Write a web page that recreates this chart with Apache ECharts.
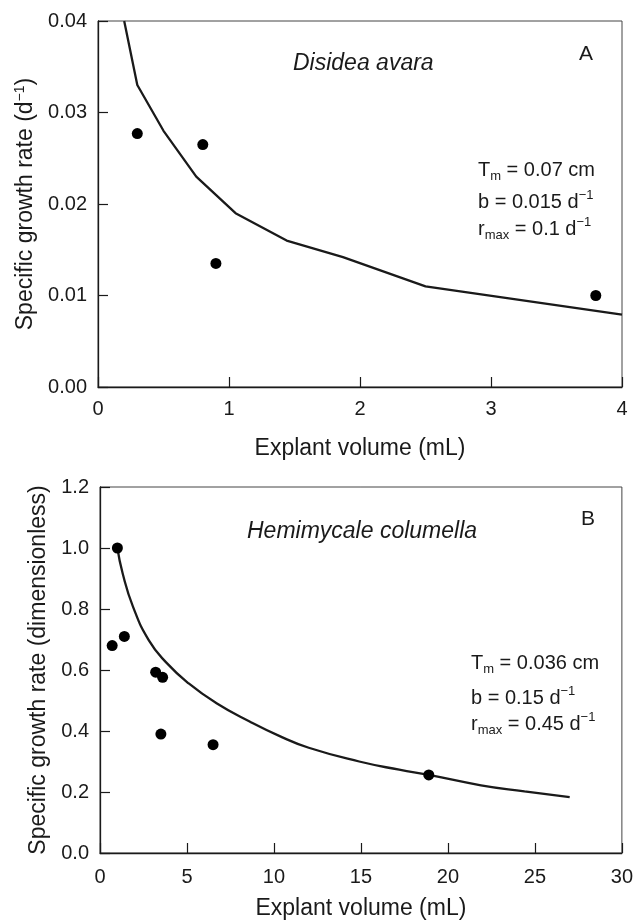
<!DOCTYPE html>
<html>
<head>
<meta charset="utf-8">
<script src="https://cdn.jsdelivr.net/npm/echarts@6/dist/echarts.min.js"></script>
<style>
  html, body { margin: 0; padding: 0; background: #fff; }
  #chart { width: 636px; height: 924px; }
</style>
</head>
<body>
<div id="chart"></div>
<script>
var FONT = "'Liberation Sans', Arial, Helvetica, sans-serif"
var INK = '#1a1a1a'

// panel A - Disidea avara
var avaraVolume = [0.3, 0.8, 0.9, 3.8]
var avaraRate = [0.0277, 0.0265, 0.0135, 0.0100]
var avaraFitVolume = [0.2, 0.3, 0.5, 0.75, 1.05, 1.44, 1.87, 2.5, 4.0]
var avaraFitRate = [0.040, 0.033, 0.028, 0.023, 0.019, 0.016, 0.0142, 0.011, 0.0079]
var avaraXTicks = [0, 1, 2, 3, 4]
var avaraYTicks = [0.00, 0.01, 0.02, 0.03, 0.04]

// panel B - Hemimycale columella
var columVolume = [1.0, 0.7, 1.4, 3.2, 3.6, 3.5, 6.5, 18.9]
var columRate = [1.0, 0.68, 0.71, 0.593, 0.576, 0.39, 0.355, 0.256]
var columFitVolume = [1.0, 1.3, 1.9, 2.8, 3.8, 5.1, 6.7, 8.6, 10.3, 12, 14.9, 17.2, 18.9, 21.9, 24.4, 27]
var columFitRate = [1.0, 0.917, 0.807, 0.698, 0.625, 0.556, 0.491, 0.431, 0.384, 0.345, 0.300, 0.273, 0.256, 0.222, 0.202, 0.183]
var columXTicks = [0, 5, 10, 15, 20, 25, 30]
var columYTicks = [0.0, 0.2, 0.4, 0.6, 0.8, 1.0, 1.2]

function zip(xs, ys) {
  return xs.map(function(x, i) { return [x, ys[i]] })
}

var supRich = {
  sup: { fontSize: 13, fontFamily: FONT, color: INK, verticalAlign: 'top', lineHeight: 26 },
  sub: { fontSize: 13, fontFamily: FONT, color: INK, verticalAlign: 'bottom', lineHeight: 26 },
  n: { fontSize: 20, fontFamily: FONT, color: INK, lineHeight: 26 }
}

function valueAxis(ticks, digits, gridIndex, extra) {
  var ax = {
    type: 'value',
    gridIndex: gridIndex,
    min: ticks[0],
    max: ticks[ticks.length - 1],
    interval: +(ticks[1] - ticks[0]).toFixed(6),
    splitLine: { show: false },
    axisLine: { onZero: false, lineStyle: { color: INK, width: 1.3 } },
    axisTick: { inside: true, length: 10, lineStyle: { color: INK, width: 1.2 } },
    axisLabel: {
      color: INK, fontSize: 20, fontFamily: FONT, margin: 11,
      showMinLabel: true, showMaxLabel: true,
      formatter: function(v) { return v.toFixed(digits) }
    },
    nameLocation: 'middle',
    nameTextStyle: { color: INK, fontSize: 23, fontFamily: FONT, rich: {
      sup: { fontSize: 14, fontFamily: FONT, color: INK, verticalAlign: 'top', lineHeight: 26 }
    } }
  }
  for (var k in extra) ax[k] = extra[k]
  return ax
}

function annot(x, y, text) {
  return {
    type: 'text', left: x, top: y, z: 100,
    style: { text: text, fill: INK, font: '20px ' + FONT, rich: supRich }
  }
}

var myChart = echarts.init(document.getElementById('chart'))
var option = {
  animation: false,
  backgroundColor: '#fff',
  grid: [
    { left: 98, top: 21, right: 14, height: 366, show: true, borderColor: '#444', borderWidth: 1 },
    { left: 100, top: 487, right: 12, height: 366, show: true, borderColor: '#444', borderWidth: 1 }
  ],
  xAxis: [
    valueAxis(avaraXTicks, 0, 0, { name: 'Explant volume (mL)', nameGap: 50 }),
    valueAxis(columXTicks, 0, 1, { name: 'Explant volume (mL)', nameGap: 44 })
  ],
  yAxis: [
    valueAxis(avaraYTicks, 2, 0, { name: 'Specific growth rate (d{sup|\u22121})', nameGap: 57 }),
    valueAxis(columYTicks, 1, 1, { name: 'Specific growth rate (dimensionless)', nameGap: 49 })
  ],
  graphic: [
    { type: 'text', left: 293, top: 52, style: { text: 'Disidea avara', fill: INK, font: 'italic 23px ' + FONT } },
    { type: 'text', left: 579, top: 44, style: { text: 'A', fill: INK, font: '21px ' + FONT } },
    annot(478, 160, '{n|T}{sub|m}{n| = 0.07 cm}'),
    annot(478, 189, '{n|b = 0.015 d}{sup|\u22121}'),
    annot(478, 216, '{n|r}{sub|max}{n| = 0.1 d}{sup|\u22121}'),
    { type: 'text', left: 247, top: 520, style: { text: 'Hemimycale columella', fill: INK, font: 'italic 23px ' + FONT } },
    { type: 'text', left: 581, top: 509, style: { text: 'B', fill: INK, font: '21px ' + FONT } },
    annot(471, 653, '{n|T}{sub|m}{n| = 0.036 cm}'),
    annot(471, 685, '{n|b = 0.15 d}{sup|\u22121}'),
    annot(471, 711, '{n|r}{sub|max}{n| = 0.45 d}{sup|\u22121}')
  ],
  series: [
    {
      type: 'line', xAxisIndex: 0, yAxisIndex: 0,
      data: zip(avaraFitVolume, avaraFitRate),
      symbol: 'none', smooth: false,
      lineStyle: { color: INK, width: 2.3 }, z: 2
    },
    {
      type: 'scatter', xAxisIndex: 0, yAxisIndex: 0,
      data: zip(avaraVolume, avaraRate),
      symbolSize: 11, itemStyle: { color: '#000', opacity: 1 }, z: 3
    },
    {
      type: 'line', xAxisIndex: 1, yAxisIndex: 1,
      data: zip(columFitVolume, columFitRate),
      symbol: 'none', smooth: 0.5,
      lineStyle: { color: INK, width: 2.3 }, z: 2
    },
    {
      type: 'scatter', xAxisIndex: 1, yAxisIndex: 1,
      data: zip(columVolume, columRate),
      symbolSize: 11, itemStyle: { color: '#000', opacity: 1 }, z: 3
    }
  ]
}
// x tick labels sit a little lower than the default margin
option.xAxis[0].axisLabel.margin = 12
option.xAxis[1].axisLabel.margin = 14
myChart.setOption(option)
</script>
</body>
</html>
